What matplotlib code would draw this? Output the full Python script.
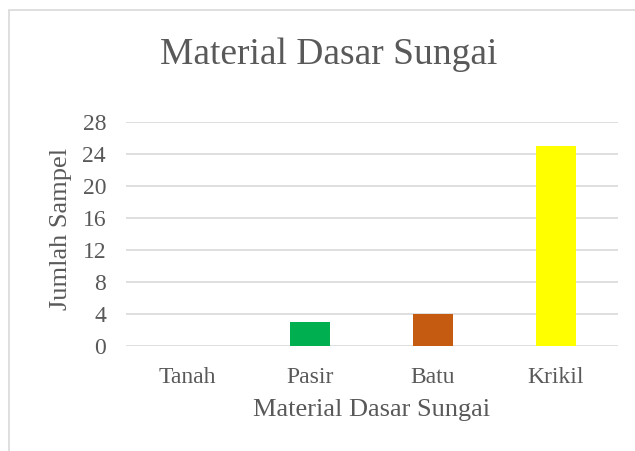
import matplotlib
matplotlib.use("Agg")
import matplotlib.pyplot as plt
from matplotlib.patches import Rectangle

categories = ["Tanah", "Pasir", "Batu", "Krikil"]
values = [0, 3, 4, 25]
colors = ["#4472c4", "#00b050", "#c55a11", "#ffff00"]
yticks = [0, 4, 8, 12, 16, 20, 24, 28]

plt.rcParams["font.family"] = ["Liberation Serif", "DejaVu Serif"]
text_color = "#595959"

fig = plt.figure(figsize=(6.35, 4.51), dpi=100)
ax = fig.add_axes([125.5 / 635, 1 - 346 / 451, 492 / 635, 224 / 451])

x = range(len(categories))
ax.bar(x, values, width=0.32, color=colors, zorder=3)

ax.set_xlim(-0.5, len(categories) - 0.5)
ax.set_ylim(0, 28)
ax.set_yticks(yticks)
ax.set_xticks(list(x))
ax.set_xticklabels(categories)
ax.grid(axis="y", color="#d9d9d9", linewidth=1.2, zorder=0)
for s in ax.spines.values():
    s.set_visible(False)
ax.tick_params(length=0, labelsize=17, colors=text_color)
ax.tick_params(axis="x", pad=15)
ax.tick_params(axis="y", pad=14)

ax.set_xlabel("Material Dasar Sungai", fontsize=19, color=text_color, labelpad=8)
ax.set_ylabel("Jumlah Sampel", fontsize=19, color=text_color)
ax.yaxis.set_label_coords(-0.108, 0.522)
fig.text(0.518, 1 - 55 / 451, "Material Dasar Sungai", fontsize=27,
         color=text_color, ha="center", va="center")

# chart frame (only top/left visible in crop)
fig.patches.append(Rectangle((9 / 635, -0.1), 1.2, 1 - 10 / 451 + 0.1,
                             transform=fig.transFigure, fill=False,
                             edgecolor="#d9d9d9", linewidth=1.2))

fig.savefig("out.png", dpi=100)
